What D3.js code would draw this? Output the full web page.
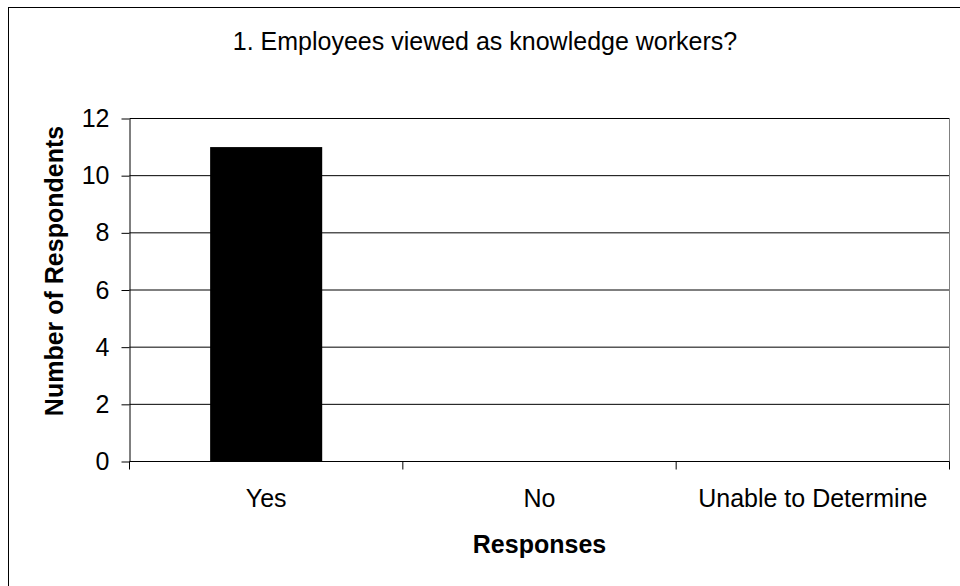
<!DOCTYPE html>
<html>
<head>
<meta charset="utf-8">
<script src="https://cdn.jsdelivr.net/npm/d3@7"></script>
<style>
  html, body { margin: 0; padding: 0; background: #fff; }
  svg { display: block; font-family: "Liberation Sans", Arial, sans-serif; }
</style>
</head>
<body>
<svg id="chart" width="960" height="586"></svg>
<script>
const categories = ["Yes", "No", "Unable to Determine"];
const values = [11, 0, 0];
const yTicks = [0, 2, 4, 6, 8, 10, 12];
const title = "1. Employees viewed as knowledge workers?";
const xTitle = "Responses";
const yTitle = "Number of Respondents";

const svg = d3.select("#chart");
const W = 960, H = 586;
const plot = { left: 129.5, right: 949.5, top: 118.5, bottom: 461.5 };

svg.append("rect").attr("width", W).attr("height", H).attr("fill", "#fff");
// outer chart border (cropped at right/bottom)
svg.append("rect")
  .attr("x", 8.5).attr("y", 7.5).attr("width", 1000).attr("height", 1000)
  .attr("fill", "none").attr("stroke", "#000").attr("stroke-width", 1);

const x = d3.scaleBand().domain(categories).range([plot.left, plot.right])
  .paddingInner(0.59).paddingOuter(0.295);
const y = d3.scaleLinear().domain([0, 12]).range([plot.bottom, plot.top]);

// gridlines
svg.append("g").selectAll("line").data(yTicks.filter(d => d > 0)).join("line")
  .attr("x1", plot.left).attr("x2", plot.right)
  .attr("y1", d => y(d)).attr("y2", d => y(d))
  .attr("stroke", "#000").attr("stroke-width", 1);

// plot area right border
svg.append("line").attr("x1", plot.right).attr("x2", plot.right)
  .attr("y1", plot.top).attr("y2", plot.bottom)
  .attr("stroke", "#808080").attr("stroke-width", 1);

// bars
svg.append("g").selectAll("rect").data(categories.map((c, i) => ({ c, v: values[i] }))).join("rect")
  .attr("x", d => x(d.c)).attr("width", x.bandwidth())
  .attr("y", d => y(d.v)).attr("height", d => y(0) - y(d.v))
  .attr("fill", "#000");

// y axis
const yAxis = d3.axisLeft(y).tickValues(yTicks).tickSize(8).tickSizeOuter(0).tickPadding(12)
  .tickFormat(d3.format("d"));
const gy = svg.append("g").attr("transform", `translate(${plot.left},0)`).call(yAxis);
gy.selectAll("text").attr("font-size", 25).attr("fill", "#000").attr("font-family", "Liberation Sans, Arial, sans-serif");
gy.selectAll("line, path").attr("stroke", "#000");

// x axis (boundary ticks)
const gx = svg.append("g");
gx.append("line").attr("x1", plot.left).attr("x2", plot.right)
  .attr("y1", plot.bottom).attr("y2", plot.bottom).attr("stroke", "#000");
const bounds = categories.map(c => x(c) - x.step() * x.paddingOuter()).concat([plot.right]);
gx.selectAll("line.tk").data(bounds).join("line").attr("class", "tk")
  .attr("x1", d => d).attr("x2", d => d)
  .attr("y1", plot.bottom).attr("y2", plot.bottom + 8).attr("stroke", "#000");
gx.selectAll("text").data(categories).join("text")
  .attr("x", d => x(d) + x.bandwidth() / 2).attr("y", 507)
  .attr("text-anchor", "middle").attr("font-size", 25).attr("fill", "#000")
  .text(d => d);

// titles
svg.append("text").attr("x", 485).attr("y", 50).attr("text-anchor", "middle")
  .attr("font-size", 25).attr("fill", "#000").text(title);
svg.append("text").attr("x", (plot.left + plot.right) / 2).attr("y", 553).attr("text-anchor", "middle")
  .attr("font-size", 25).attr("font-weight", "bold").attr("fill", "#000").text(xTitle);
svg.append("text").attr("transform", `translate(63,271) rotate(-90)`)
  .attr("text-anchor", "middle").attr("font-size", 25).attr("font-weight", "bold").attr("fill", "#000")
  .text(yTitle);
</script>
</body>
</html>
